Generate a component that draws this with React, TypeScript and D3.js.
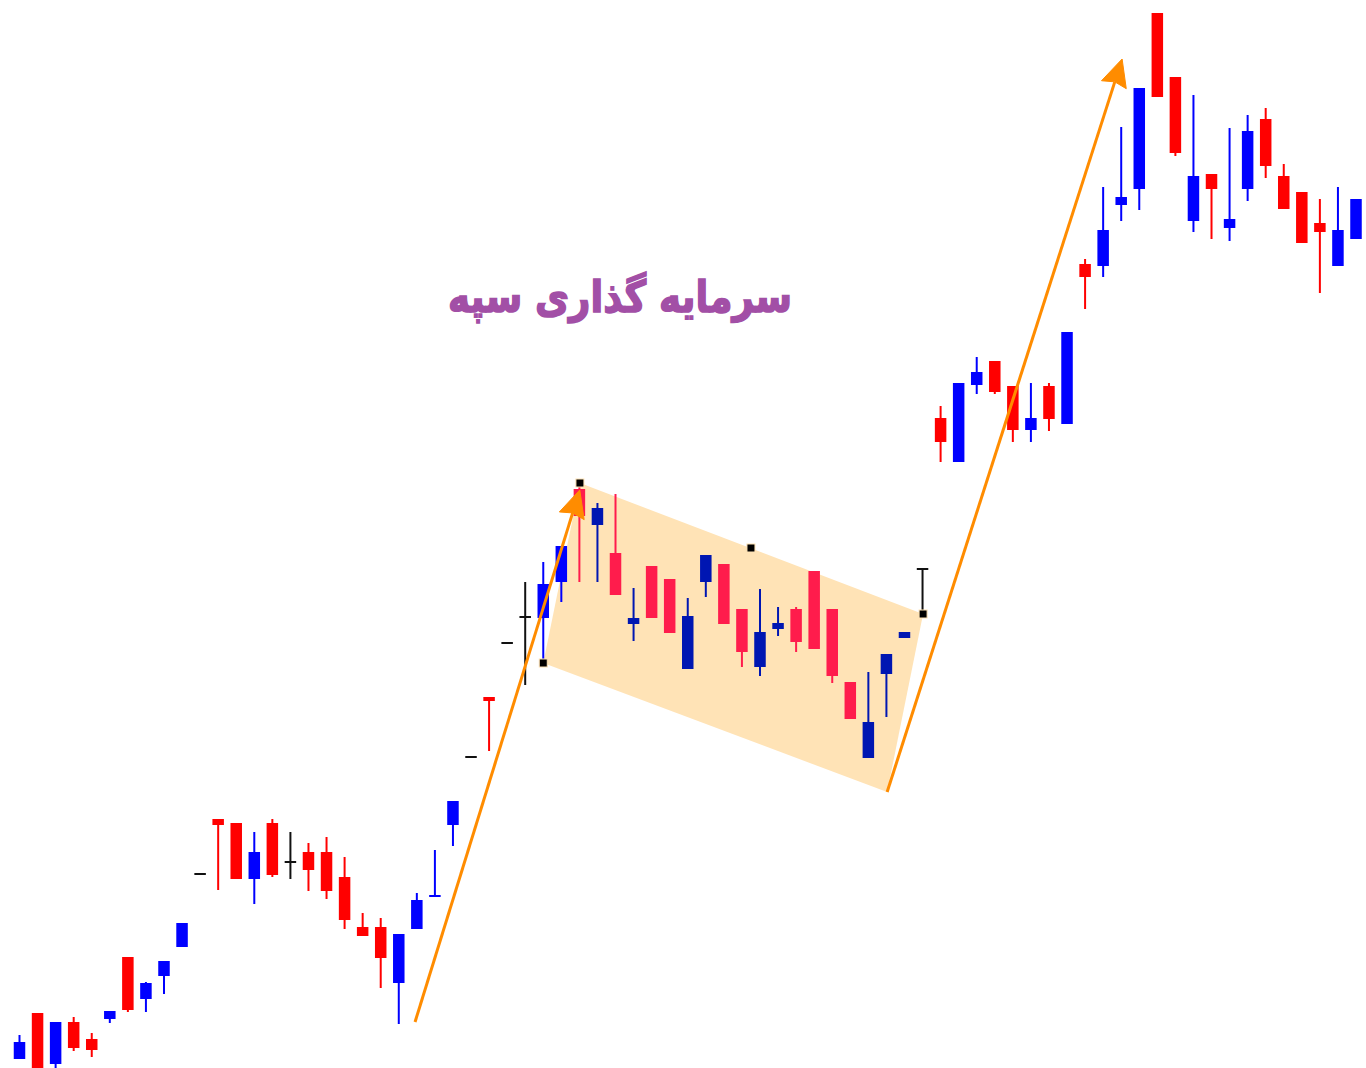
import React from "react";
import * as d3 from "d3";

// Candle data (price units), index = bar number
const opens = [9,55,4,46,29,49,111,69,92,121,194,249,245,189,245,206,216,216,191,141,141,85,139,171,243,311,371,425,451,450,486,579,543,515,444,502,489,399,486,504,459,401,439,459,497,459,386,310,394,430,499,650,606,683,707,682,638,682,644,804,802,863,879,1055,991,847,894,840,879,949,892,876,845,802,829];
const highs = [33,55,46,51,35,57,111,86,107,145,194,249,245,236,249,236,225,231,211,155,150,134,175,218,267,311,371,425,486,506,522,581,565,574,480,502,489,470,513,504,459,479,461,461,497,459,386,396,414,436,499,662,685,711,707,682,685,685,736,809,881,941,980,1055,991,973,894,940,953,960,904,876,869,881,869];
const lows = [9,-12,-2,17,11,45,56,56,74,121,194,178,189,164,191,189,177,169,139,132,80,44,139,171,222,311,317,425,383,408,466,486,486,473,427,450,435,399,471,444,401,392,432,416,419,385,349,310,351,430,454,606,606,674,674,626,626,637,644,759,791,847,858,971,912,836,829,827,867,890,859,825,775,802,829];
const closes = [26,-7,46,20,18,57,58,85,107,145,194,243,189,216,193,206,198,177,148,132,110,134,168,173,267,311,367,425,451,484,522,552,560,473,450,450,435,452,513,444,416,436,445,426,419,392,349,346,414,436,499,626,685,696,676,638,650,649,736,791,838,871,980,971,915,892,879,849,937,902,859,825,836,838,869];
// bars drawn with the alternate (channel) palette
const channelStart = 32;
const channelEnd = 50;

// Channel rectangle corners [barIndex, price]
const channelCorners: [number, number][] = [[31.03, 585], [50.03, 454], [48.04, 276], [29.0, 405]];
const handles: [number, number][] = [[31.03, 585], [29.0, 405], [40.5, 520], [50.03, 454]];
// Arrows [from, to] in [barIndex, price]
const arrows: [[number, number], [number, number]][] = [
  [[21.9, 46], [31.02, 578]],
  [[48.04, 276], [61.05, 1009]],
];
const title = "سرمایه گذاری سپه";

const W = 1366;
const H = 1068;

export default function App() {
  const x = d3.scaleLinear().domain([0, 74]).range([19.5, 1356]);
  const y = d3.scaleLinear().domain([0, 1068]).range([1068, 0]);
  const bw = 11.5;

  const colorOf = (i: number) => {
    const alt = i + 1 >= channelStart && i + 1 <= channelEnd;
    if (closes[i] > opens[i]) return alt ? "#0016B2" : "#0000FF";
    if (closes[i] < opens[i]) return alt ? "#FF1C4C" : "#FF0000";
    return "#111111";
  };

  const line = d3.line<[number, number]>().x((d) => x(d[0])).y((d) => y(d[1]));

  const arrowParts = arrows.map((a) => {
    const x0 = x(a[0][0]), y0 = y(a[0][1]);
    const x1 = x(a[1][0]), y1 = y(a[1][1]);
    const ang = Math.atan2(y1 - y0, x1 - x0);
    const len = 27, hw = 13;
    const bx = x1 - len * Math.cos(ang), by = y1 - len * Math.sin(ang);
    const nx = -Math.sin(ang), ny = Math.cos(ang);
    const nbx = x1 - (len - 3) * Math.cos(ang), nby = y1 - (len - 3) * Math.sin(ang);
    const head = `M${x1},${y1} L${bx + nx * hw},${by + ny * hw} L${nbx},${nby} L${bx - nx * hw},${by - ny * hw} Z`;
    return { x0, y0, lx: nbx, ly: nby, head };
  });

  return (
    <svg width={W} height={H} style={{ position: "absolute", left: 0, top: 0, background: "#fff" }}>
      <rect x={0} y={0} width={W} height={H} fill="#fff" />
      <path d={line(channelCorners)! + "Z"} fill="#FFE3B6" />
      <g>
        {opens.map((o, i) => {
          const c = closes[i];
          const col = colorOf(i);
          const cx = x(i);
          const top = y(Math.max(o, c));
          const bot = y(Math.min(o, c));
          const bh = Math.max(bot - top, 2);
          return (
            <g key={i}>
              <line x1={cx} x2={cx} y1={y(highs[i])} y2={y(lows[i])} stroke={col} strokeWidth={2} />
              <rect x={cx - bw / 2} y={o === c ? top - 1 : top} width={bw} height={bh} fill={col} />
            </g>
          );
        })}
      </g>
      {arrowParts.map((a, i) => (
        <g key={i}>
          <line x1={a.x0} y1={a.y0} x2={a.lx} y2={a.ly} stroke="#FF8C00" strokeWidth={3} />
          <path d={a.head} fill="#FF8C00" stroke="#FF8C00" strokeWidth={1} strokeLinejoin="round" />
        </g>
      ))}
      {handles.map((h, i) => (
        <rect key={i} x={x(h[0]) - 4} y={y(h[1]) - 4} width={8} height={8} fill="#000" stroke="#FFE3B6" strokeWidth={1} />
      ))}
      <text x={620} y={312} textAnchor="middle" direction="rtl" fontFamily="DejaVu Sans" fontWeight="bold" fontSize={44}
        fill="#A24FA6" stroke="#A24FA6" strokeWidth={1.6} textLength={344} lengthAdjust="spacingAndGlyphs">
        {title}
      </text>
    </svg>
  );
}
